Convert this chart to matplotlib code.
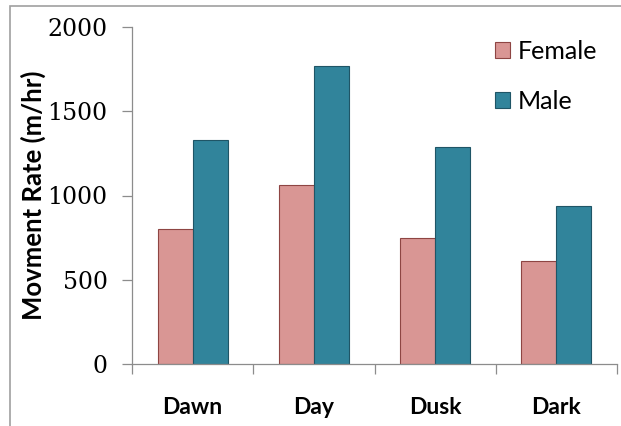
import matplotlib
matplotlib.use("Agg")
import numpy as np
import matplotlib.pyplot as plt
from matplotlib.patches import Rectangle

# Movement rate by time of day
periods = ["Dawn", "Day", "Dusk", "Dark"]
female = [800, 1060, 745, 612]
male = [1328, 1768, 1290, 937]
y_ticks = [0, 500, 1000, 1500, 2000]

female_color = "#D99694"
male_color = "#31849B"
female_edge = "#8E4543"
male_edge = "#1F5566"
axis_gray = "#8C8C8C"

sans = ["Lato", "DejaVu Sans"]
serif = ["DejaVu Serif"]


def main():
    fig = plt.figure(figsize=(6.21, 4.26), dpi=100)
    ax = fig.add_axes([132 / 621, 1 - 364 / 426, 485 / 621, 337 / 426])

    x = np.arange(len(periods))
    w = 0.289
    ax.bar(x - w / 2, female, w, color=female_color, edgecolor=female_edge,
           linewidth=0.8, label="Female")
    ax.bar(x + w / 2, male, w, color=male_color, edgecolor=male_edge,
           linewidth=0.8, label="Male")

    ax.set_xlim(-0.5, len(periods) - 0.5)
    ax.set_ylim(0, 2000)

    # spines: only left and bottom, in gray
    for side in ("top", "right"):
        ax.spines[side].set_visible(False)
    for side in ("left", "bottom"):
        ax.spines[side].set_color(axis_gray)
        ax.spines[side].set_linewidth(0.9)

    ax.set_yticks(y_ticks)
    ax.set_yticklabels([str(v) for v in y_ticks], family=serif, fontsize=17)
    ax.tick_params(axis="y", length=7.5, width=0.9, color=axis_gray, pad=10)

    # category labels at the centres, tick marks at the boundaries
    ax.set_xticks(x)
    ax.set_xticklabels(periods, family=sans, fontweight="bold", fontsize=16.5)
    ax.tick_params(axis="x", which="major", length=0, pad=24)
    ax.set_xticks(np.arange(len(periods) + 1) - 0.5, minor=True)
    ax.tick_params(axis="x", which="minor", length=7, width=0.9, color=axis_gray)

    ax.set_ylabel("Movment Rate (m/hr)", family=sans, fontweight="bold",
                  fontsize=18.5)
    ax.yaxis.set_label_coords(-0.178, 0.5)

    ax.legend(loc="upper left", bbox_to_anchor=(0.748, 0.962),
              frameon=False, prop={"family": sans, "size": 18},
              handlelength=0.6, handleheight=0.6, handletextpad=0.32,
              labelspacing=1.08, borderpad=0, borderaxespad=0)

    # outer chart border
    fig.patches.append(Rectangle((10 / 621, -0.1), 1.2, 1.1 - 6 / 426,
                                 transform=fig.transFigure, fill=False,
                                 edgecolor="#A0A0A0", linewidth=1.2))

    fig.savefig("out.png", dpi=100)


if __name__ == "__main__":
    main()
